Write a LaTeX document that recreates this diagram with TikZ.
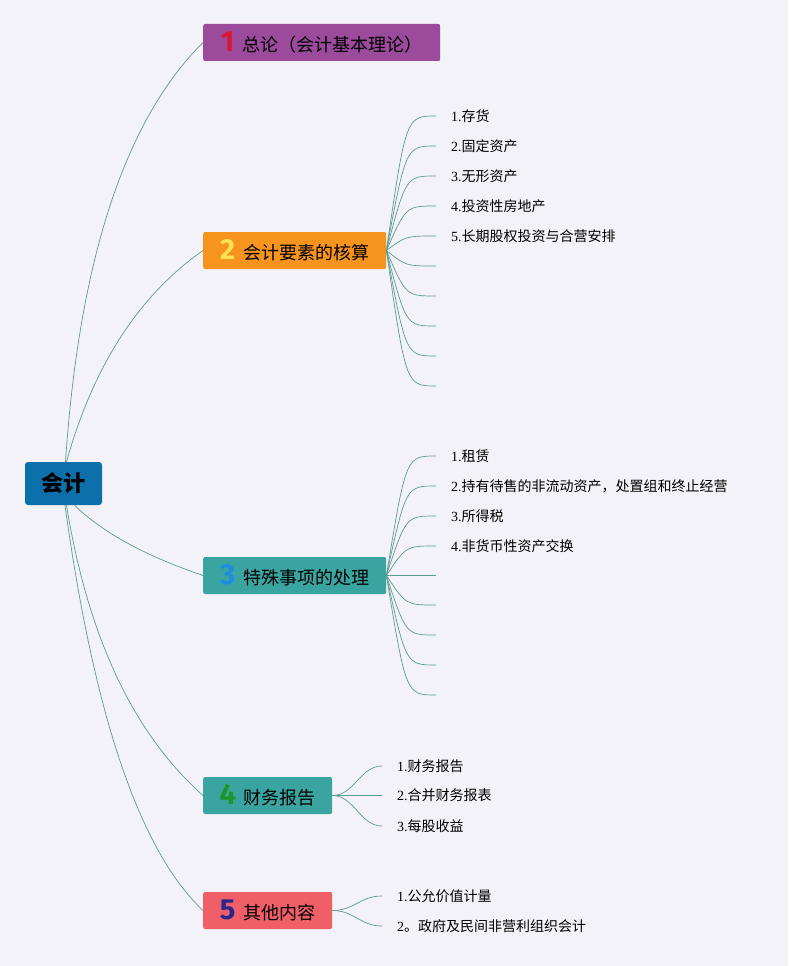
\documentclass[tikz,border=0pt]{standalone}
\usepackage{fontspec}
\usepackage{tikz}
\usepackage{xcolor}
\setmainfont{Liberation Serif}
\newfontfamily\cjk{Noto Sans CJK SC}
\newfontfamily\numfont{Fira Sans}
\usetikzlibrary{positioning}
\definecolor{PageBg}{RGB}{242,242,248}
\definecolor{LineTeal}{RGB}{92,156,142}
\definecolor{RootBlue}{RGB}{14,112,170}
\definecolor{BoxPurple}{RGB}{156,74,156}
\definecolor{BoxOrange}{RGB}{247,148,30}
\definecolor{BoxTeal}{RGB}{58,164,160}
\definecolor{BoxCoral}{RGB}{240,94,104}
\definecolor{NumRed}{RGB}{214,24,52}
\definecolor{NumYellow}{RGB}{250,226,84}
\definecolor{NumBlue}{RGB}{32,140,226}
\definecolor{NumGreen}{RGB}{28,150,40}
\definecolor{NumNavy}{RGB}{40,40,140}
\newcommand{\bnum}[2]{{\numfont\bfseries\fontsize{29}{29}\selectfont\color{#1}#2}\hspace{8pt}}

\begin{document}
\begin{tikzpicture}[x=1pt, y=-1pt,
  rootbox/.style={fill=RootBlue, rounded corners=3pt, minimum width=77pt, minimum height=43pt, inner sep=0pt, font=\cjk\bfseries\fontsize{22}{24}\selectfont},
  branchbox/.style={anchor=west, rounded corners=2pt, minimum height=37pt, inner sep=0pt, font=\cjk\fontsize{18}{20}\selectfont},
  leaf/.style={anchor=west, inner xsep=15pt, inner ysep=2pt, font=\fontsize{14}{16}\selectfont},
  limb/.style={draw=LineTeal, line width=0.7pt},
  twig/.style={draw=LineTeal, line width=0.7pt}]
\fill[PageBg] (0,0) rectangle (788,966);
\useasboundingbox (0,0) rectangle (788,966);

% centre and main branches
\node[rootbox] (root) at (63.5,483.5) {会计};
\node[branchbox, fill=BoxPurple, minimum width=237pt] (b1) at (203,42.5) {\bnum{NumRed}{1}总论（会计基本理论）};
\node[branchbox, fill=BoxOrange, minimum width=183pt] (b2) at (203,250.5) {\bnum{NumYellow}{2}会计要素的核算};
\node[branchbox, fill=BoxTeal, minimum width=183pt] (b3) at (203,575.5) {\bnum{NumBlue}{3}特殊事项的处理};
\node[branchbox, fill=BoxTeal, minimum width=129pt] (b4) at (203,795.5) {\bnum{NumGreen}{4}财务报告};
\node[branchbox, fill=BoxCoral, minimum width=129pt] (b5) at (203,910.5) {\bnum{NumNavy}{5}其他内容};

\draw[limb] ([xshift=2pt]root.north) .. controls (79,260) and (125,120) .. (b1.west);
\draw[limb] ([xshift=3pt]root.north) .. controls (93,367) and (138,296) .. (b2.west);
\draw[limb] ([xshift=11pt]root.south) .. controls (103,533) and (146,556) .. (b3.west);
\draw[limb] ([xshift=3pt]root.south) .. controls (88,638) and (134,734) .. (b4.west);
\draw[limb] ([xshift=1.5pt]root.south) .. controls (94,716) and (140,851) .. (b5.west);

% leaves of 2
\node[leaf] (l21) at (436,116) {1.{\cjk 存货}};
\node[leaf] (l22) at (436,146) {2.{\cjk 固定资产}};
\node[leaf] (l23) at (436,176) {3.{\cjk 无形资产}};
\node[leaf] (l24) at (436,206) {4.{\cjk 投资性房地产}};
\node[leaf] (l25) at (436,236) {5.{\cjk 长期股权投资与合营安排}};
\coordinate (l26) at (436,266);
\coordinate (l27) at (436,296);
\coordinate (l28) at (436,326);
\coordinate (l29) at (436,356);
\coordinate (l210) at (436,386);
\foreach \k in {1,...,5}
  \draw[twig] (b2.east) .. controls ([xshift=-30pt]l2\k.west) .. (l2\k.west);
\foreach \k in {6,...,10}
  \draw[twig] (b2.east) .. controls ([xshift=-30pt]l2\k) .. (l2\k);

% leaves of 3
\node[leaf] (l31) at (436,456) {1.{\cjk 租赁}};
\node[leaf] (l32) at (436,486) {2.{\cjk 持有待售的非流动资产，处置组和终止经营}};
\node[leaf] (l33) at (436,516) {3.{\cjk 所得税}};
\node[leaf] (l34) at (436,546) {4.{\cjk 非货币性资产交换}};
\coordinate (l35) at (436,575.5);
\coordinate (l36) at (436,605);
\coordinate (l37) at (436,635);
\coordinate (l38) at (436,665);
\coordinate (l39) at (436,695);
\foreach \k in {1,...,4}
  \draw[twig] (b3.east) .. controls ([xshift=-30pt]l3\k.west) .. (l3\k.west);
\foreach \k in {5,...,9}
  \draw[twig] (b3.east) .. controls ([xshift=-30pt]l3\k) .. (l3\k);

% leaves of 4 and 5
\node[leaf] (l41) at (382,766) {1.{\cjk 财务报告}};
\node[leaf] (l42) at (382,795.5) {2.{\cjk 合并财务报表}};
\node[leaf] (l43) at (382,826) {3.{\cjk 每股收益}};
\node[leaf] (l51) at (382,896) {1.{\cjk 公允价值计量}};
\node[leaf] (l52) at (382,926) {2{\cjk 。政府及民间非营利组织会计}};
\foreach \k in {1,2,3}
  \draw[twig] (b4.east) .. controls +(22,0) and +(-22,0) .. (l4\k.west);
\foreach \k in {1,2}
  \draw[twig] (b5.east) .. controls +(22,0) and +(-22,0) .. (l5\k.west);
\end{tikzpicture}
\end{document}
